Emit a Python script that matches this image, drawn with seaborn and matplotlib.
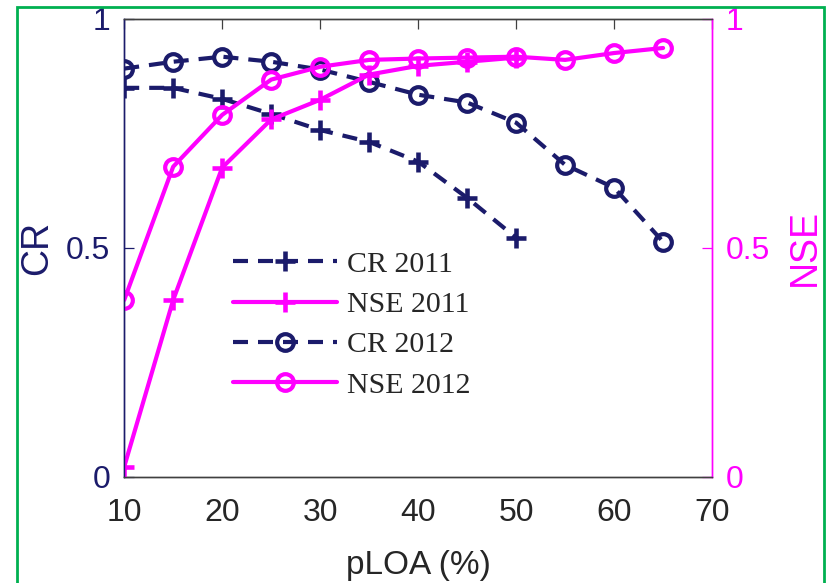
import pandas as pd
import seaborn as sns
import matplotlib.pyplot as plt
from matplotlib.patches import Rectangle
from matplotlib.lines import Line2D

# Data
ploa_2011 = [10, 15, 20, 25, 30, 35, 40, 45, 50]
cr_2011 = [0.849, 0.849, 0.825, 0.792, 0.757, 0.731, 0.688, 0.609, 0.522]
nse_2011 = [0.022, 0.386, 0.675, 0.780, 0.823, 0.878, 0.897, 0.906, 0.915]

ploa_2012 = [10, 15, 20, 25, 30, 35, 40, 45, 50, 55, 60, 65]
cr_2012 = [0.891, 0.906, 0.917, 0.906, 0.889, 0.862, 0.834, 0.817, 0.773, 0.681, 0.631, 0.513]
nse_2012 = [0.386, 0.677, 0.790, 0.867, 0.895, 0.910, 0.913, 0.915, 0.917, 0.910, 0.925, 0.936]

NAVY = '#1b1b6b'
MAGENTA = '#ff00ff'
LW = 3.0
MS_PLUS = 15
MS_O = 12
DASH = (3.6, 2.4)

sns.set_style('white')
plt.rcParams['font.family'] = ['Liberation Sans', 'DejaVu Sans']

df11 = pd.DataFrame({'pLOA': ploa_2011, 'CR': cr_2011, 'NSE': nse_2011})
df12 = pd.DataFrame({'pLOA': ploa_2012, 'CR': cr_2012, 'NSE': nse_2012})

fig = plt.figure(figsize=(8.28, 5.83), dpi=100)
ax = fig.add_axes([0.150, 0.182, 0.710, 0.786])
ax2 = ax.twinx()

plus_kw = dict(marker='+', markersize=MS_PLUS, markeredgewidth=LW + 0.3)
circ_kw = dict(marker='o', markersize=MS_O, markeredgewidth=LW, markerfacecolor='none')

# CR on left axis (dashed navy)
sns.lineplot(data=df11, x='pLOA', y='CR', ax=ax, color=NAVY, linewidth=LW,
             markeredgecolor=NAVY, **plus_kw)
sns.lineplot(data=df12, x='pLOA', y='CR', ax=ax, color=NAVY, linewidth=LW,
             markeredgecolor=NAVY, **circ_kw)
for ln in ax.get_lines():
    ln.set_dashes(DASH)

# NSE on right axis (solid magenta)
sns.lineplot(data=df11, x='pLOA', y='NSE', ax=ax2, color=MAGENTA, linewidth=LW,
             markeredgecolor=MAGENTA, **plus_kw)
sns.lineplot(data=df12, x='pLOA', y='NSE', ax=ax2, color=MAGENTA, linewidth=LW,
             markeredgecolor=MAGENTA, **circ_kw)

for a in (ax, ax2):
    a.set_xlim(10, 70)
    a.set_ylim(0, 1)
    a.set_yticks([0, 0.5, 1])
    a.set_yticklabels(['0', '0.5', '1'])
    a.tick_params(direction='in', length=7, labelsize=23, width=0.9)

ax.set_xticks([10, 20, 30, 40, 50, 60, 70])
ax.tick_params(axis='x', colors='#404040', labelcolor='#262626', top=True, pad=15)
ax.tick_params(axis='y', colors=NAVY, labelcolor=NAVY, pad=10)
ax2.tick_params(axis='y', colors=MAGENTA, labelcolor=MAGENTA, pad=10)

for a in (ax, ax2):
    for s in a.spines.values():
        s.set_linewidth(1.0)
    a.spines['top'].set_color('#404040')
    a.spines['bottom'].set_color('#404040')
    a.spines['left'].set_color(NAVY)
    a.spines['right'].set_color(MAGENTA)

ax.set_xlabel('pLOA (%)', fontsize=24, color='#262626', labelpad=16)
ax.set_ylabel('CR', fontsize=27, color=NAVY, labelpad=8)
ax2.set_ylabel('NSE', fontsize=27, color=MAGENTA, labelpad=12)

handles = [
    Line2D([], [], color=NAVY, lw=LW, dashes=DASH, mec=NAVY, **plus_kw),
    Line2D([], [], color=MAGENTA, lw=LW, mec=MAGENTA, **plus_kw),
    Line2D([], [], color=NAVY, lw=LW, dashes=DASH, mec=NAVY, **circ_kw),
    Line2D([], [], color=MAGENTA, lw=LW, mec=MAGENTA, **circ_kw),
]
labels = ['CR 2011', 'NSE 2011', 'CR 2012', 'NSE 2012']
ax2.legend(handles, labels, loc='center left', bbox_to_anchor=(0.185, 0.332),
           frameon=False, borderpad=0, borderaxespad=0,
           handlelength=3.5, handletextpad=0.33, labelspacing=0.45,
           prop={'family': 'Liberation Serif', 'size': 21.5})

# green frame around the figure
fig.patches.append(Rectangle((0.0205, -0.01), 0.9745, 0.998, transform=fig.transFigure,
                             fill=False, edgecolor='#00b050', linewidth=2.0))

fig.savefig('out.png', dpi=100)
